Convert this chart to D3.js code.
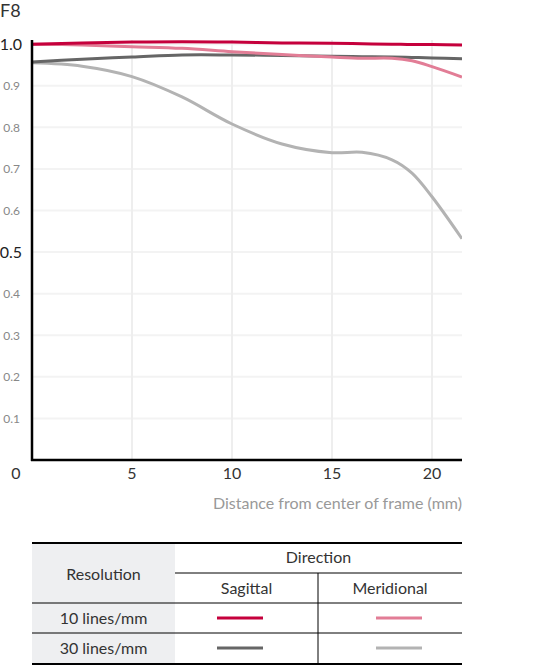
<!DOCTYPE html>
<html>
<head>
<meta charset="utf-8">
<script src="https://cdn.jsdelivr.net/npm/d3@7"></script>
<style>
  body { margin: 0; background: #fff; }
  svg { font-family: Lato, "Open Sans", sans-serif; display: block; }
</style>
</head>
<body>
<div id="graph-container"></div>
<script>
// Data (distance in mm, MTF value)
var distance = [0, 2.5, 5, 7.5, 10, 12.5, 15, 16.5, 18, 19, 20, 21.5];
var sag10 = [1.0, 1.003, 1.005, 1.006, 1.005, 1.003, 1.002, 1.001, 1.0, 0.999, 0.999, 0.998];
var mer10 = [1.0, 0.998, 0.994, 0.990, 0.982, 0.975, 0.969, 0.966, 0.966, 0.960, 0.946, 0.921];
var sag30 = [0.957, 0.964, 0.969, 0.974, 0.974, 0.973, 0.971, 0.970, 0.969, 0.968, 0.967, 0.965];
var mer30 = [0.955, 0.947, 0.922, 0.873, 0.808, 0.760, 0.739, 0.740, 0.722, 0.690, 0.633, 0.532];
var xTicks = [5, 10, 15, 20];
var yTicks = [0.1, 0.2, 0.3, 0.4, 0.5, 0.6, 0.7, 0.8, 0.9, 1.0];
var bigTicks = [0.5, 1.0];

var series = [
  { name: "10 lines/mm Sagittal", values: sag10, color: "#c5003c" },
  { name: "10 lines/mm Meridional", values: mer10, color: "#e27d96" },
  { name: "30 lines/mm Sagittal", values: sag30, color: "#666666" },
  { name: "30 lines/mm Meridional", values: mer30, color: "#b3b3b3" }
];
// draw order: grays under reds
var drawOrder = [3, 2, 1, 0];

var svgWidth = 547;
var svgHeight = 671;

var svg = d3.select("#graph-container")
  .append("svg")
  .attr("width", svgWidth)
  .attr("height", svgHeight);

var xScale = d3.scaleLinear().domain([0, 21.5]).range([32, 462]);
var yScale = d3.scaleLinear().domain([0, 1.01]).range([460, 40]);

// Title
svg.append("text")
  .attr("x", 0)
  .attr("y", 17)
  .attr("font-size", 18)
  .attr("fill", "#333")
  .text("F8");

// Grid lines
svg.append("g")
  .selectAll("line")
  .data(yTicks)
  .enter()
  .append("line")
  .attr("x1", xScale(0))
  .attr("x2", xScale(21.5))
  .attr("y1", function (d) { return yScale(d); })
  .attr("y2", function (d) { return yScale(d); })
  .attr("stroke", "#f3f3f3")
  .attr("stroke-width", 2);

svg.append("g")
  .selectAll("line")
  .data(xTicks)
  .enter()
  .append("line")
  .attr("x1", function (d) { return xScale(d); })
  .attr("x2", function (d) { return xScale(d); })
  .attr("y1", yScale(1.01))
  .attr("y2", yScale(0))
  .attr("stroke", "#eeeeee")
  .attr("stroke-width", 2);

// Y tick labels
svg.append("g")
  .selectAll("text")
  .data(yTicks)
  .enter()
  .append("text")
  .attr("x", function (d) { return bigTicks.indexOf(d) >= 0 ? 22 : 20; })
  .attr("y", function (d) { return yScale(d); })
  .attr("dy", "0.36em")
  .attr("text-anchor", "end")
  .attr("font-size", function (d) { return bigTicks.indexOf(d) >= 0 ? 16 : 12; })
  .attr("fill", function (d) { return bigTicks.indexOf(d) >= 0 ? "#222" : "#888"; })
  .text(function (d) { return d.toFixed(1); });

// X tick labels
svg.append("g")
  .selectAll("text")
  .data(xTicks)
  .enter()
  .append("text")
  .attr("x", function (d) { return xScale(d); })
  .attr("y", 479)
  .attr("text-anchor", "middle")
  .attr("font-size", 16)
  .attr("fill", "#333")
  .text(function (d) { return d; });

svg.append("text")
  .attr("x", 16)
  .attr("y", 479)
  .attr("text-anchor", "middle")
  .attr("font-size", 16)
  .attr("fill", "#333")
  .text("0");

svg.append("text")
  .attr("x", 462)
  .attr("y", 509)
  .attr("text-anchor", "end")
  .attr("font-size", 16)
  .attr("fill", "#999")
  .text("Distance from center of frame (mm)");

// Curves
svg.append("clipPath")
  .attr("id", "plot-clip")
  .append("rect")
  .attr("x", xScale(0))
  .attr("y", 0)
  .attr("width", xScale(21.5) - xScale(0))
  .attr("height", yScale(0));

var line = d3.line()
  .x(function (d, i) { return xScale(distance[i]); })
  .y(function (d) { return yScale(d); })
  .curve(d3.curveCatmullRom.alpha(0.5));

svg.append("g")
  .attr("clip-path", "url(#plot-clip)")
  .selectAll("path")
  .data(drawOrder.map(function (i) { return series[i]; }))
  .enter()
  .append("path")
  .attr("d", function (d) { return line(d.values); })
  .attr("fill", "none")
  .attr("stroke", function (d) { return d.color; })
  .attr("stroke-width", 3);

// Axes lines
svg.append("line")
  .attr("x1", xScale(0))
  .attr("x2", xScale(0))
  .attr("y1", yScale(1.01))
  .attr("y2", yScale(0) + 1)
  .attr("stroke", "#000")
  .attr("stroke-width", 2.5);

svg.append("line")
  .attr("x1", xScale(0) - 1)
  .attr("x2", xScale(21.5))
  .attr("y1", yScale(0))
  .attr("y2", yScale(0))
  .attr("stroke", "#000")
  .attr("stroke-width", 2.5);

// Legend table
var tLeft = 32, tRight = 462, tMid = 175, tSplit = 318;
var rowY = [543, 573, 603, 633, 664];
var table = svg.append("g");

table.append("rect")
  .attr("x", tLeft)
  .attr("y", rowY[0])
  .attr("width", tMid - tLeft)
  .attr("height", rowY[4] - rowY[0])
  .attr("fill", "#eeeff1");

table.append("line")
  .attr("x1", tMid).attr("x2", tRight)
  .attr("y1", rowY[1]).attr("y2", rowY[1])
  .attr("stroke", "#000").attr("stroke-width", 1);

[rowY[2], rowY[3]].forEach(function (y) {
  table.append("line")
    .attr("x1", tLeft).attr("x2", tRight)
    .attr("y1", y).attr("y2", y)
    .attr("stroke", "#000").attr("stroke-width", 1);
});

table.append("line")
  .attr("x1", tSplit).attr("x2", tSplit)
  .attr("y1", rowY[1]).attr("y2", rowY[4])
  .attr("stroke", "#000").attr("stroke-width", 1);

[rowY[0], rowY[4]].forEach(function (y) {
  table.append("line")
    .attr("x1", tLeft).attr("x2", tRight)
    .attr("y1", y).attr("y2", y)
    .attr("stroke", "#000").attr("stroke-width", 2);
});

function cellText(x, y, s) {
  table.append("text")
    .attr("x", x)
    .attr("y", y)
    .attr("dy", "0.35em")
    .attr("text-anchor", "middle")
    .attr("font-size", 16)
    .attr("fill", "#333")
    .text(s);
}

cellText((tMid + tRight) / 2, 557, "Direction");
cellText((tLeft + tMid) / 2, 574, "Resolution");
cellText((tMid + tSplit) / 2, 588, "Sagittal");
cellText((tSplit + tRight) / 2, 588, "Meridional");
cellText((tLeft + tMid) / 2, 618, "10 lines/mm");
cellText((tLeft + tMid) / 2, 648, "30 lines/mm");

// Legend swatches
var swatchX = [[217, 263], [376, 422]];
series.forEach(function (s, i) {
  var row = Math.floor(i / 2);
  var col = i % 2;
  var y = row === 0 ? 618 : 648;
  table.append("line")
    .attr("x1", swatchX[col][0])
    .attr("x2", swatchX[col][1])
    .attr("y1", y)
    .attr("y2", y)
    .attr("stroke", s.color)
    .attr("stroke-width", 3);
});
</script>
</body>
</html>
